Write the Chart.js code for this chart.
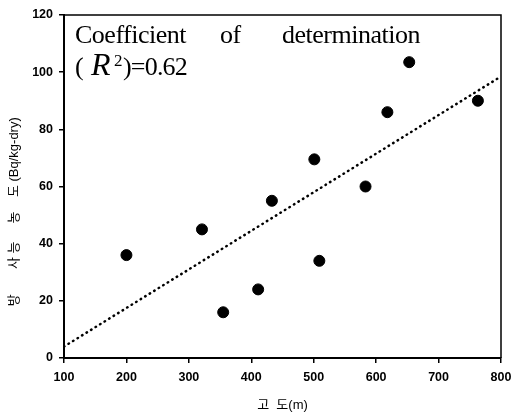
<!DOCTYPE html>
<html>
<head>
<meta charset="utf-8">
<script src="https://cdn.jsdelivr.net/npm/chart.js@4.4.1/dist/chart.umd.min.js"></script>
<style>
  html, body { margin: 0; padding: 0; background: #fff; }
  .wrap { width: 512px; height: 416px; position: relative; }
</style>
</head>
<body>
<div class="wrap"><canvas id="chart"></canvas></div>
<script>
  // 고도 (m) vs 방사능 농도 (Bq/kg-dry)
  var altitude = [200, 321, 355, 411, 433, 501, 509, 583, 618, 653, 763];
  var activity = [36, 45, 16, 24, 55, 69.5, 34, 60, 86, 103.5, 90];
  // regression line ends
  var fitX = [100, 800];
  var fitY = [4, 98.5];

  var xTitle = '고  도(m)';
  // uneven gaps like the original; trailing spaces push it down
  var yTitle = '방       사 능     농    도 (Bq/kg-dry)              ';

  function pairs(xs, ys) {
    return xs.map(function (x, i) { return { x: x, y: ys[i] }; });
  }

  // frame on top/right and the R² note
  var notePlugin = {
    id: 'note',
    afterDraw: function (chart) {
      var ctx = chart.ctx, a = chart.chartArea;
      ctx.save();
      ctx.strokeStyle = '#000';
      ctx.lineWidth = 1.5;
      ctx.beginPath();
      ctx.moveTo(a.left, a.top);
      ctx.lineTo(a.right, a.top);
      ctx.lineTo(a.right, a.bottom);
      ctx.stroke();

      ctx.fillStyle = '#000';
      ctx.textBaseline = 'alphabetic';
      ctx.textAlign = 'left';
      ctx.font = '26px "Liberation Serif"';
      ctx.letterSpacing = '-0.5px';
      ctx.fillText('Coefficient', 75, 43);
      ctx.fillText('of', 220, 43);
      ctx.fillText('determination', 282, 43);

      ctx.fillText('(', 75, 75);
      ctx.font = 'italic 32px "Liberation Serif"';
      ctx.fillText('R', 91, 75);
      ctx.font = '17px "Liberation Serif"';
      ctx.fillText('2', 114, 66);
      ctx.font = '26px "Liberation Serif"';
      ctx.letterSpacing = '-0.8px';
      ctx.fillText(')=0.62', 123, 75);
      ctx.restore();
    }
  };

  var tickFont = { family: '"Liberation Sans", Arial, sans-serif', size: 12.5, weight: 'bold' };
  var titleFont = { family: '"Liberation Sans", "Noto Sans CJK KR", sans-serif', size: 13 };

  new Chart(document.getElementById('chart').getContext('2d'), {
    type: 'scatter',
    data: {
      datasets: [{
        label: 'data',
        data: pairs(altitude, activity),
        backgroundColor: '#000',
        borderColor: '#000',
        pointRadius: 5.5,
        pointHoverRadius: 5.5
      }, {
        label: 'fit',
        type: 'line',
        data: pairs(fitX, fitY),
        borderColor: '#000',
        borderWidth: 2.5,
        borderDash: [0.5, 4.8],
        borderCapStyle: 'round',
        pointRadius: 0,
        fill: false
      }]
    },
    options: {
      responsive: true,
      maintainAspectRatio: false,
      animation: false,
      layout: { padding: { top: 15, right: 11, left: 0, bottom: 0 } },
      plugins: {
        legend: { display: false },
        tooltip: { enabled: false }
      },
      scales: {
        x: {
          type: 'linear',
          min: 100,
          max: 800,
          afterFit: function (s) { s.height = 58; s.paddingLeft = 0; s.paddingRight = 0; },
          ticks: { stepSize: 100, color: '#000', font: tickFont, padding: 7, maxRotation: 0 },
          grid: { drawOnChartArea: false, drawTicks: true, tickLength: 5, color: '#000', lineWidth: 1.5 },
          border: { display: true, color: '#000', width: 2 },
          title: { display: true, text: xTitle, color: '#000', font: titleFont, padding: { top: 0, bottom: 3 } }
        },
        y: {
          min: 0,
          max: 120,
          afterFit: function (s) { s.width = 64; s.paddingTop = 0; s.paddingBottom = 0; },
          ticks: { stepSize: 20, color: '#000', font: tickFont, padding: 6 },
          grid: { drawOnChartArea: false, drawTicks: true, tickLength: 5, color: '#000', lineWidth: 1.5 },
          border: { display: true, color: '#000', width: 2 },
          title: { display: true, text: yTitle, color: '#000', font: titleFont, padding: { top: 7, bottom: 0 } }
        }
      }
    },
    plugins: [notePlugin]
  });
</script>
</body>
</html>
